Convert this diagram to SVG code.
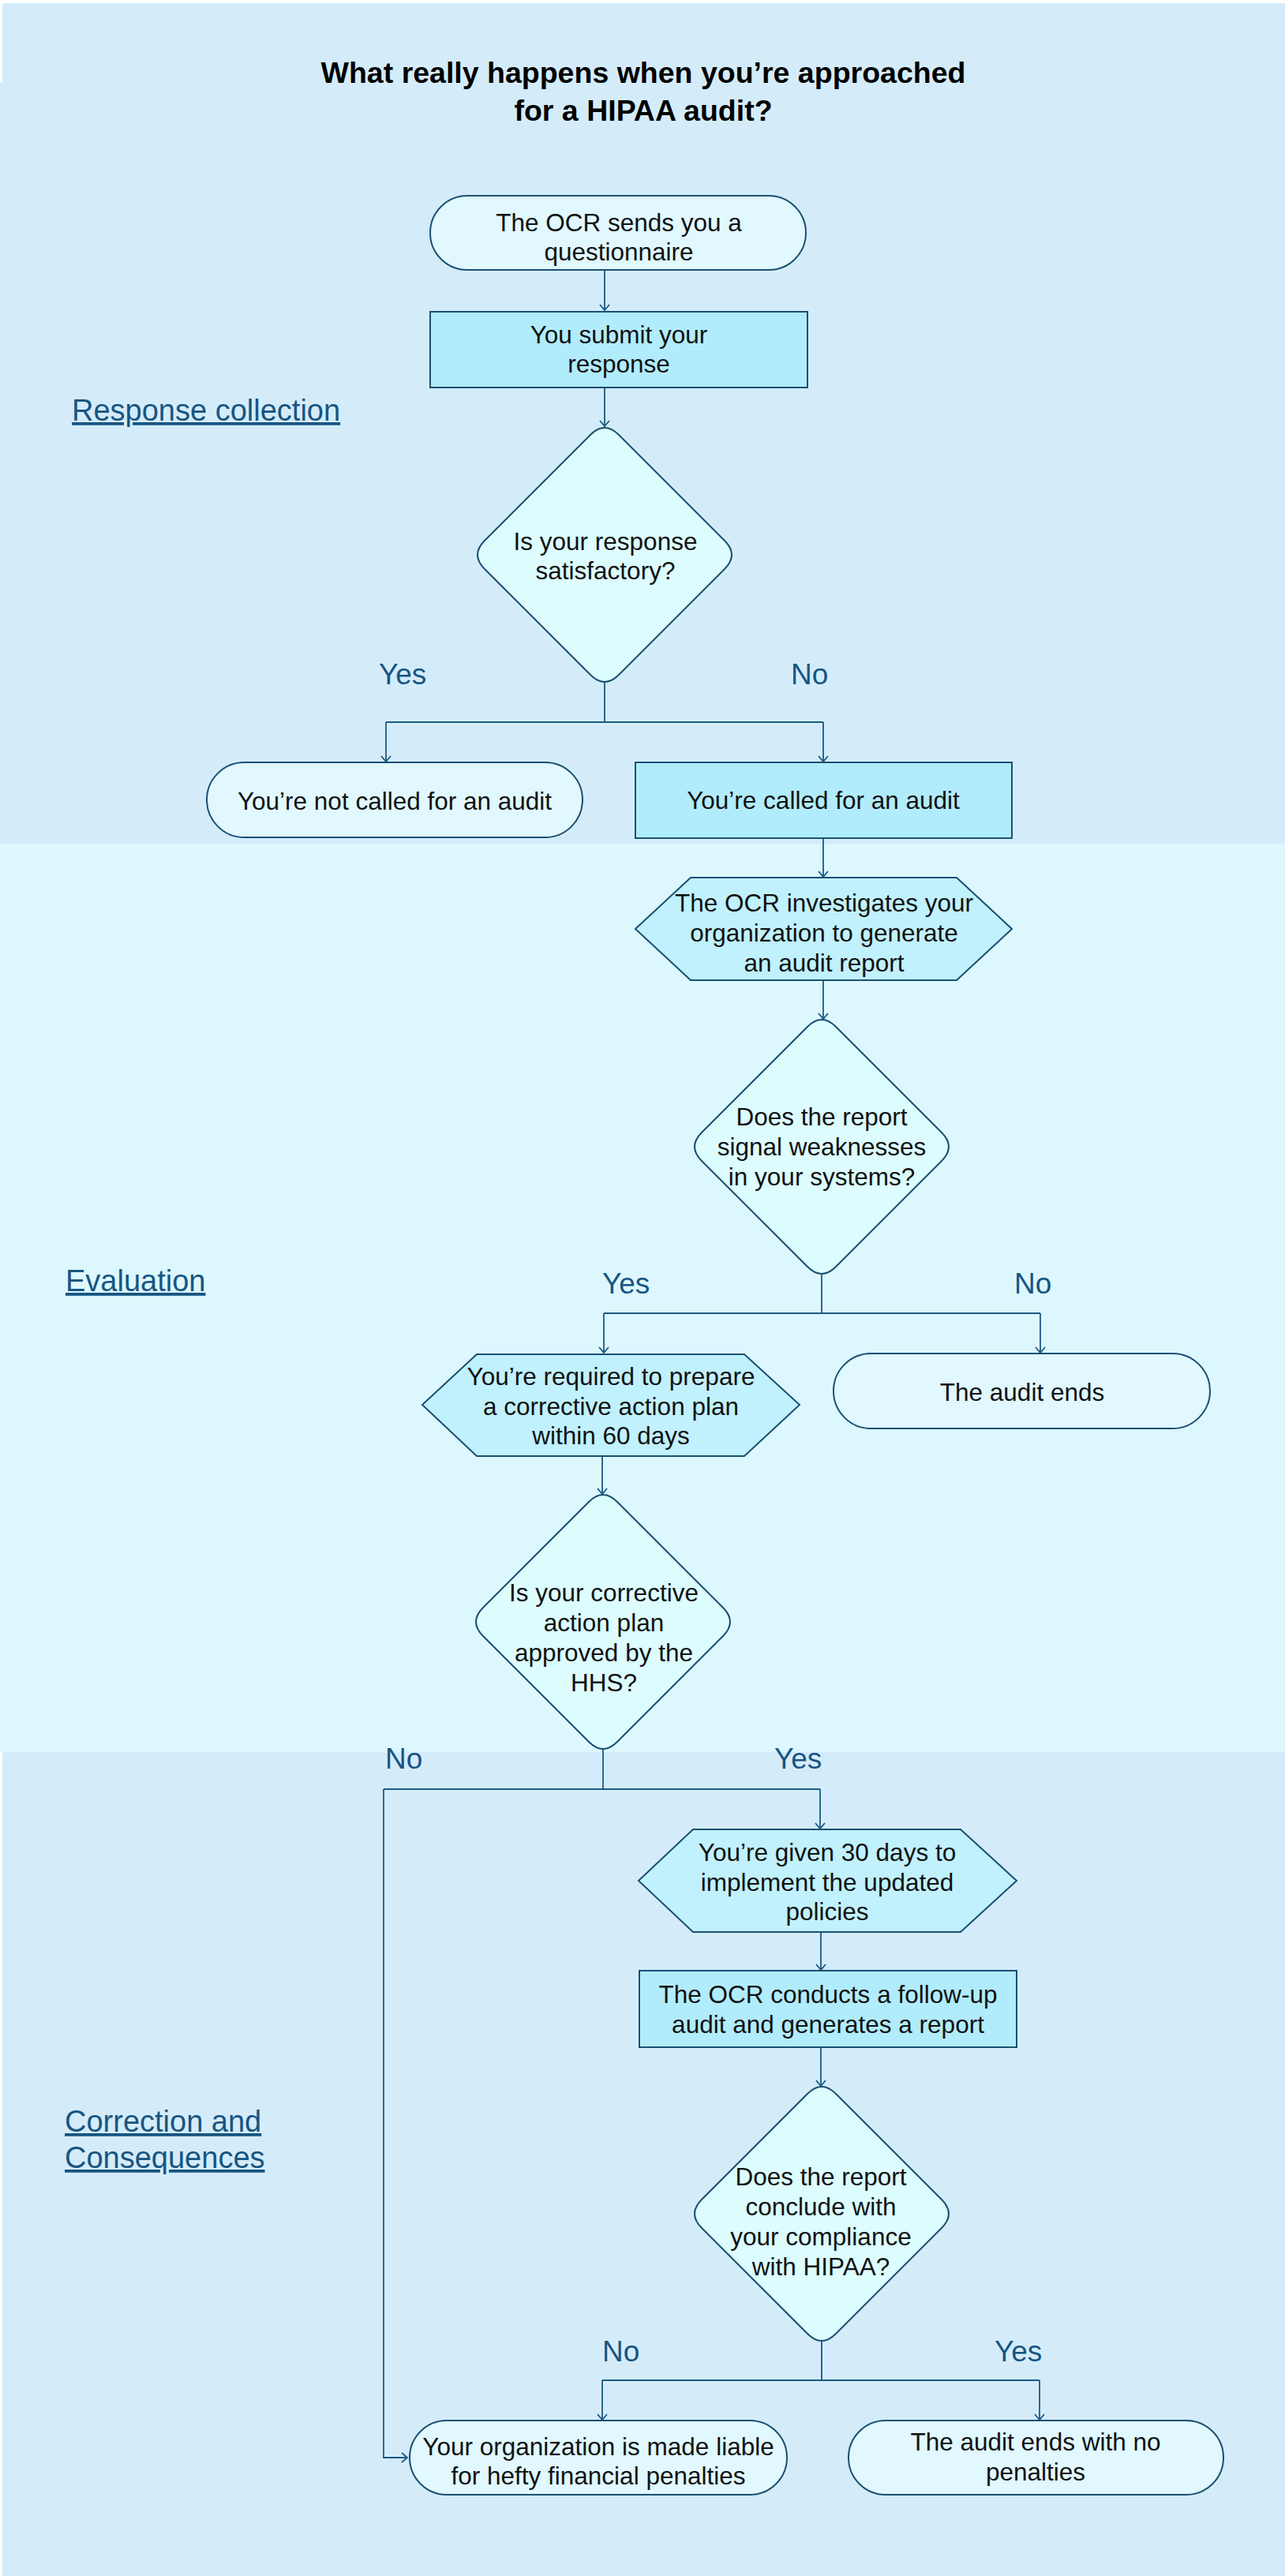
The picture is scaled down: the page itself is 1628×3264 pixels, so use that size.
<svg xmlns="http://www.w3.org/2000/svg" width="1628" height="3264" viewBox="0 0 1628 3264">
<defs>
<style>
.node{stroke:#1b4f72;stroke-width:2}
.pill{fill:#e0f8fe}
.proc{fill:#b1ecfc}
.hex{fill:#c0f1fd}
.dia{fill:#dcfcfd}
.t{font-family:"Liberation Sans",Arial,sans-serif;font-size:31.5px;fill:#111;text-anchor:middle}
.title{font-family:"Liberation Sans",Arial,sans-serif;font-size:37.5px;font-weight:bold;fill:#000;text-anchor:middle}
.lane{font-family:"Liberation Sans",Arial,sans-serif;font-size:38px;fill:#175582;text-decoration:underline}
.yn{font-family:"Liberation Sans",Arial,sans-serif;font-size:37px;fill:#175582}
.c{fill:none;stroke:#1b5a82;stroke-width:1.8}
</style>
<marker id="arr" viewBox="-9 -7 11 14" markerWidth="11" markerHeight="14" refX="0" refY="0" orient="auto" markerUnits="userSpaceOnUse">
<path d="M-7,-6 L0,0 L-7,6" fill="none" stroke="#1b5a82" stroke-width="1.8"/>
</marker>
</defs>
<g id="background">
<rect x="3" y="4" width="1625" height="1065" fill="#d4ecfa"/>
<rect x="0" y="104" width="1628" height="965" fill="#d4ecfa"/>
<rect x="0" y="1069" width="1628" height="1151" fill="#ddf7fe"/>
<rect x="3" y="2220" width="1625" height="1044" fill="#d4ecfa"/>
</g>
<g id="title">
<text class="title" x="815" y="105">What really happens when you’re approached</text>
<text class="title" x="815" y="153">for a HIPAA audit?</text>
</g>
<g id="lanes">
<text class="lane" x="91" y="533">Response collection</text>
<text class="lane" x="83" y="1636">Evaluation</text>
<text class="lane" x="82" y="2701">Correction and</text>
<text class="lane" x="82" y="2747">Consequences</text>
</g>
<g id="connectors">
<path class="c" d="M766,342 V393" marker-end="url(#arr)"/>
<path class="c" d="M766,491 V540" marker-end="url(#arr)"/>
<path class="c" d="M766,864 V915"/>
<path class="c" d="M489,915 H1043"/>
<path class="c" d="M489,915 V965" marker-end="url(#arr)"/>
<path class="c" d="M1043,915 V965" marker-end="url(#arr)"/>
<path class="c" d="M1043,1062 V1111" marker-end="url(#arr)"/>
<path class="c" d="M1043,1242 V1291" marker-end="url(#arr)"/>
<path class="c" d="M1041,1614 V1664"/>
<path class="c" d="M765,1664 H1318"/>
<path class="c" d="M765,1664 V1714" marker-end="url(#arr)"/>
<path class="c" d="M1318,1664 V1714" marker-end="url(#arr)"/>
<path class="c" d="M763,1845 V1893" marker-end="url(#arr)"/>
<path class="c" d="M764,2216 V2267"/>
<path class="c" d="M486,2267 H1039"/>
<path class="c" d="M1039,2267 V2317" marker-end="url(#arr)"/>
<path class="c" d="M486,2267 V3114 H516" marker-end="url(#arr)"/>
<path class="c" d="M1040,2448 V2496" marker-end="url(#arr)"/>
<path class="c" d="M1040,2594 V2643" marker-end="url(#arr)"/>
<path class="c" d="M1041,2966 V3016"/>
<path class="c" d="M763,3016 H1317"/>
<path class="c" d="M763,3016 V3066" marker-end="url(#arr)"/>
<path class="c" d="M1317,3016 V3066" marker-end="url(#arr)"/>
</g>
<g id="labels">
<text class="yn" x="480" y="867">Yes</text>
<text class="yn" x="1002" y="867">No</text>
<text class="yn" x="763" y="1639">Yes</text>
<text class="yn" x="1285" y="1639">No</text>
<text class="yn" x="488" y="2241">No</text>
<text class="yn" x="981" y="2241">Yes</text>
<text class="yn" x="763" y="2992">No</text>
<text class="yn" x="1260" y="2992">Yes</text>
</g>
<g id="n1">
<rect class="node pill" x="545" y="248" width="476" height="94" rx="47"/>
<text class="t" x="784" y="293">The OCR sends you a</text>
<text class="t" x="784" y="330">questionnaire</text>
</g>
<g id="n2">
<rect class="node proc" x="545" y="395" width="478" height="96"/>
<text class="t" x="784" y="435">You submit your</text>
<text class="t" x="784" y="472">response</text>
</g>
<g id="d1">
<path class="node dia" d="M784,551 L918,685 Q936,703 918,721 L784,855 Q766,873 748,855 L614,721 Q596,703 614,685 L748,551 Q766,533 784,551 Z"/>
<text class="t" x="767" y="697">Is your response</text>
<text class="t" x="767" y="734">satisfactory?</text>
</g>
<g id="n3">
<rect class="node pill" x="262" y="966" width="476" height="95" rx="47.5"/>
<text class="t" x="500" y="1026">You’re not called for an audit</text>
</g>
<g id="n4">
<rect class="node proc" x="805" y="966" width="477" height="96"/>
<text class="t" x="1043" y="1025">You’re called for an audit</text>
</g>
<g id="n5">
<polygon class="node hex" points="805,1177 875,1112 1212,1112 1282,1177 1212,1242 875,1242"/>
<text class="t" x="1044" y="1155">The OCR investigates your</text>
<text class="t" x="1044" y="1193">organization to generate</text>
<text class="t" x="1044" y="1231">an audit report</text>
</g>
<g id="d2">
<path class="node dia" d="M1059,1301 L1193,1435 Q1211,1453 1193,1471 L1059,1605 Q1041,1623 1023,1605 L889,1471 Q871,1453 889,1435 L1023,1301 Q1041,1283 1059,1301 Z"/>
<text class="t" x="1041" y="1426">Does the report</text>
<text class="t" x="1041" y="1464">signal weaknesses</text>
<text class="t" x="1041" y="1502">in your systems?</text>
</g>
<g id="n6">
<polygon class="node hex" points="535,1780 604,1716 943,1716 1013,1780 943,1845 604,1845"/>
<text class="t" x="774" y="1755">You’re required to prepare</text>
<text class="t" x="774" y="1793">a corrective action plan</text>
<text class="t" x="774" y="1830">within 60 days</text>
</g>
<g id="n7">
<rect class="node pill" x="1056" y="1715" width="477" height="95" rx="47.5"/>
<text class="t" x="1295" y="1775">The audit ends</text>
</g>
<g id="d3">
<path class="node dia" d="M782,1903 L916,2037 Q934,2055 916,2073 L782,2207 Q764,2225 746,2207 L612,2073 Q594,2055 612,2037 L746,1903 Q764,1885 782,1903 Z"/>
<text class="t" x="765" y="2029">Is your corrective</text>
<text class="t" x="765" y="2067">action plan</text>
<text class="t" x="765" y="2105">approved by the</text>
<text class="t" x="765" y="2143">HHS?</text>
</g>
<g id="n8">
<polygon class="node hex" points="809,2383 878,2318 1217,2318 1288,2383 1217,2448 878,2448"/>
<text class="t" x="1048" y="2358">You’re given 30 days to</text>
<text class="t" x="1048" y="2396">implement the updated</text>
<text class="t" x="1048" y="2433">policies</text>
</g>
<g id="n9">
<rect class="node proc" x="810" y="2497" width="478" height="97"/>
<text class="t" x="1049" y="2538">The OCR conducts a follow-up</text>
<text class="t" x="1049" y="2576">audit and generates a report</text>
</g>
<g id="d4">
<path class="node dia" d="M1059,2653 L1193,2787 Q1211,2805 1193,2823 L1059,2957 Q1041,2975 1023,2957 L889,2823 Q871,2805 889,2787 L1023,2653 Q1041,2635 1059,2653 Z"/>
<text class="t" x="1040" y="2769">Does the report</text>
<text class="t" x="1040" y="2807">conclude with</text>
<text class="t" x="1040" y="2845">your compliance</text>
<text class="t" x="1040" y="2883">with HIPAA?</text>
</g>
<g id="n10">
<rect class="node pill" x="519" y="3067" width="478" height="94" rx="47"/>
<text class="t" x="758" y="3111">Your organization is made liable</text>
<text class="t" x="758" y="3148">for hefty financial penalties</text>
</g>
<g id="n11">
<rect class="node pill" x="1075" y="3067" width="475" height="94" rx="47"/>
<text class="t" x="1312" y="3105">The audit ends with no</text>
<text class="t" x="1312" y="3143">penalties</text>
</g>
</svg>
